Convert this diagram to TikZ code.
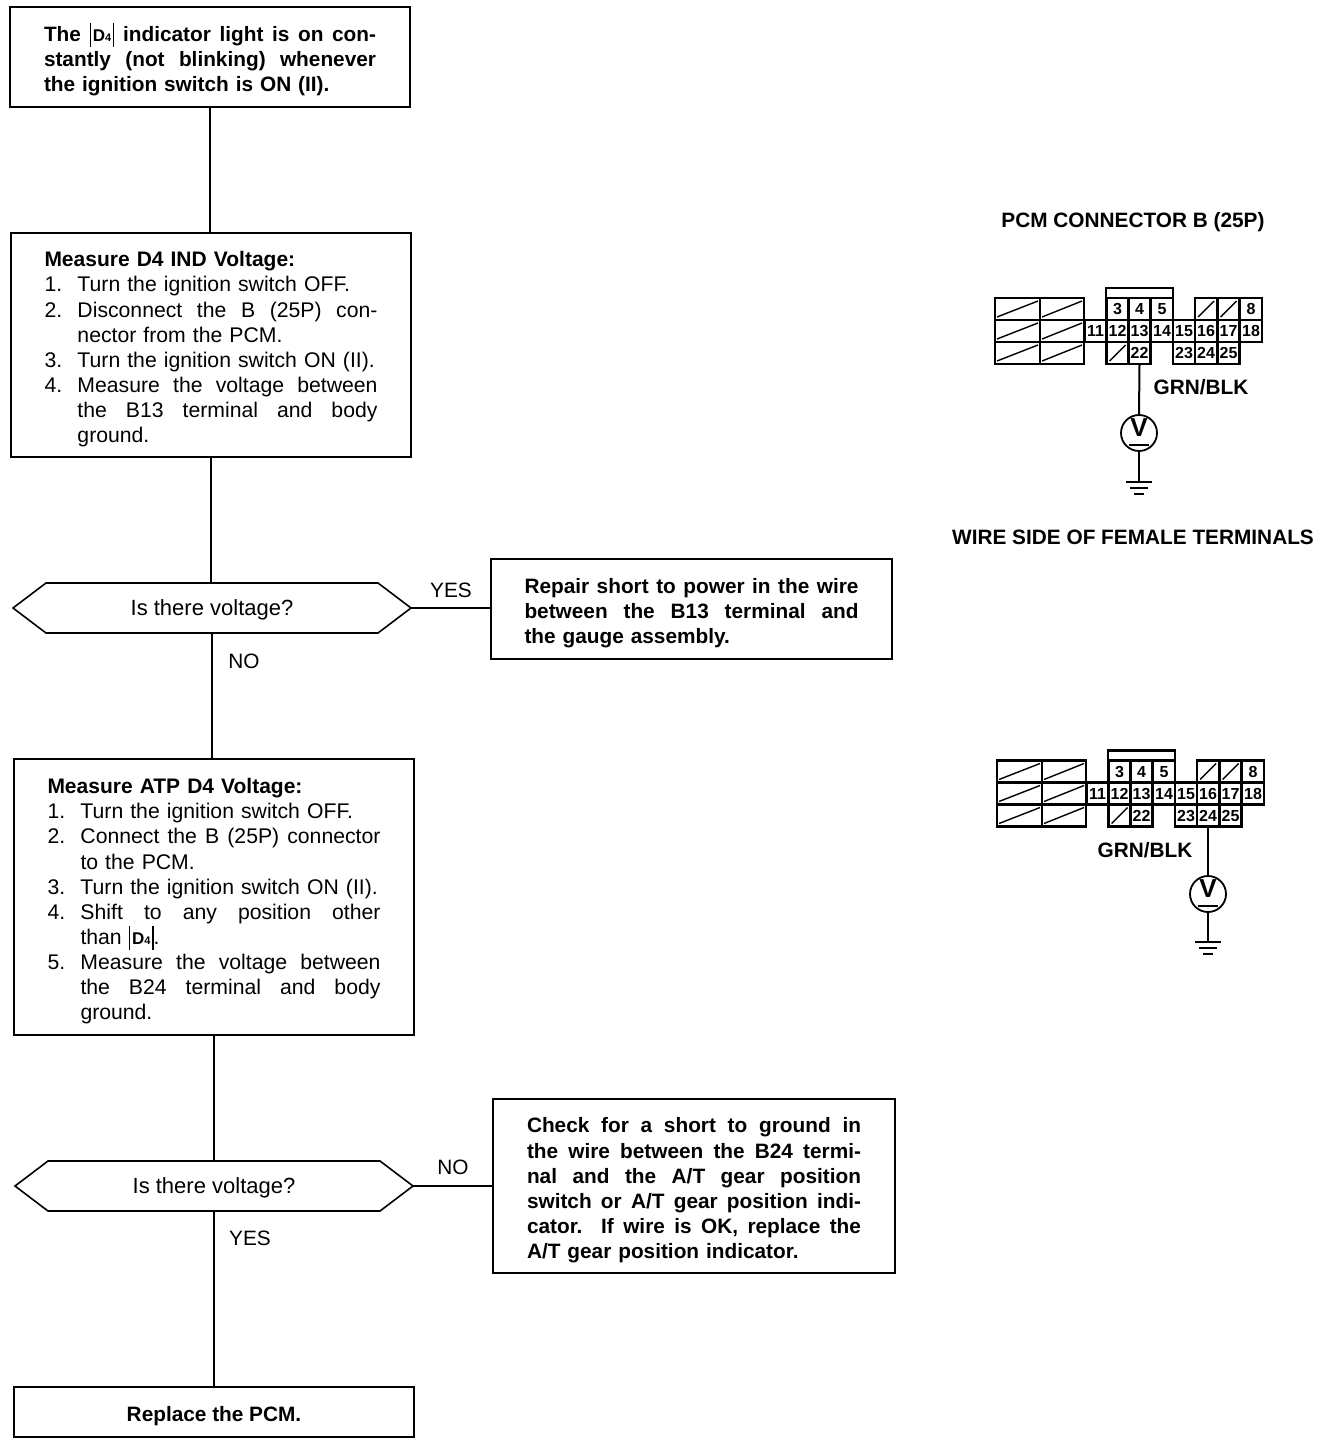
\documentclass[tikz,border=0pt]{standalone}
\usepackage{fontspec}
\setmainfont{Liberation Sans}
\newcommand{\dfour}{\mbox{\rule[-2.5pt]{.6pt}{12pt}\hspace{1pt}{\fontsize{8.5}{9}\selectfont\bfseries D\raisebox{0pt}{\fontsize{5.5}{6}\selectfont 4}}\hspace{1pt}\rule[-2.5pt]{.6pt}{12pt}}}
\newcommand{\jl}[1]{\makebox[\hsize][s]{\spaceskip=0pt\xspaceskip=0pt #1}}
\newcommand{\nm}[1]{\makebox[16.5pt][l]{#1}}
\newcommand{\ind}{\hspace*{16.5pt}}
\newcommand{\hd}[1]{{\fontsize{10.5}{12.55}\selectfont\bfseries #1}}
\newcommand{\tp}[1]{\rule{0pt}{#1pt}}
\tikzset{
  flowbox/.style={draw=black,line width=.8pt,inner sep=0pt,outer sep=0pt,minimum width=200pt,align=left,fill=white,
    font=\fontsize{10.6}{12.57}\selectfont},
  boldbox/.style={flowbox,font=\fontsize{10.4}{12.57}\selectfont\bfseries},
  hexa/.style={inner sep=0pt,outer sep=0pt,minimum width=199pt,minimum height=25pt,font=\fontsize{11}{12.5}\selectfont},
  flowline/.style={draw=black,line width=.8pt},
  lbl/.style={font=\fontsize{10.4}{12.5}\selectfont,inner sep=0pt},
  captxt/.style={font=\fontsize{10.4}{12.5}\selectfont\bfseries,inner sep=0pt},
  cell/.style={draw=black,line width=1.1pt,inner sep=0pt,outer sep=0pt,minimum width=11pt,minimum height=11pt,text height=5.8pt,text depth=0pt,font=\fontsize{8}{8}\selectfont\bfseries},
  meter/.style={circle,draw=black,line width=.9pt,minimum size=18pt,inner sep=0pt,outer sep=0pt},
  vtxt/.style={inner sep=0pt,font=\fontsize{13}{13}\selectfont\bfseries},
  wire/.style={draw=black,line width=1pt},
  conn/.style={draw=black,line width=1.3pt},
  hatch/.style={draw=black,line width=.7pt},
  gnd/.style={draw=black,line width=1.2pt}
}
\newcommand{\hexoutline}[1]{\draw[flowline] (#1.west) -- ([xshift=16.5pt]#1.north west) -- ([xshift=-16.5pt]#1.north east) -- (#1.east) -- ([xshift=-16.5pt]#1.south east) -- ([xshift=16.5pt]#1.south west) -- cycle;}
\newcommand{\connector}[3]{%
  \begin{scope}[shift={(#1,#2)}]
    \foreach \xa/\xb in {995/1040,1040/1084}{
      \foreach \ya/\yb in {298/320,320/342,342/364}{
        \draw[conn] (\xa,\ya) rectangle (\xb,\yb);
        \draw[hatch] (\xa+2,\yb-3) -- (\xb-2,\ya+3);
      }
    }
    \draw[conn] (1106,298) -- (1106,288) -- (1173,288) -- (1173,298);
    \draw[conn] (1084,320) -- (1106,320);
    \foreach \n/\c/\r in {3/1117.5/309,4/1139.5/309,5/1162/309,8/1251/309,
      11/1095.5/331,12/1117.5/331,13/1139.5/331,14/1162/331,15/1184/331,16/1206/331,17/1228.5/331,18/1251/331,
      22/1139.5/353,23/1184/353,24/1206/353,25/1228.5/353}{
      \node[cell] (#3\n) at (\c,\r) {\n};
    }
    \foreach \c/\r in {1206/309,1228.5/309,1117.5/353}{
      \node[cell] (#3s\c) at (\c,\r) {};
      \draw[hatch] (\c-8,\r+8) -- (\c+8,\r-8);
    }
  \end{scope}}
\begin{document}
\begin{tikzpicture}[x=0.5pt,y=-0.5pt]
\useasboundingbox (0,0) rectangle (1328,1444);
\fill[white] (0,0) rectangle (1328,1444);

\node[boldbox,minimum height=50pt,text width=166pt] (b1) at (210,57)
 {\jl{\tp{12}The \dfour{} indicator light is on con-}\\ \jl{stantly (not blinking) whenever}\\ the ignition switch is ON (II).};

\node[flowbox,minimum height=112pt,text width=166.5pt] (b2) at (211,345)
 {\tp{12}\hd{Measure D4 IND Voltage:}\\
  \nm{1.}Turn the ignition switch OFF.\\
  \jl{\nm{2.}Disconnect the B (25P) con-}\\
  \ind nector from the PCM.\\
  \nm{3.}Turn the ignition switch ON (II).\\
  \jl{\nm{4.}Measure the voltage between}\\
  \jl{\ind the B13 terminal and body}\\
  \ind ground.};

\node[hexa] (h1) at (212,608) {\tp{10}Is there voltage?};
\hexoutline{h1}

\node[boldbox,minimum width=200.5pt,minimum height=50pt,text width=167pt] (r1) at (691.5,609)
 {\jl{\tp{12}Repair short to power in the wire}\\ \jl{between the B13 terminal and}\\ the gauge assembly.};

\node[flowbox,minimum height=138pt,text width=166.5pt] (b3) at (214,897)
 {\tp{12}\hd{Measure ATP D4 Voltage:}\\
  \nm{1.}Turn the ignition switch OFF.\\
  \jl{\nm{2.}Connect the B (25P) connector}\\
  \ind to the PCM.\\
  \nm{3.}Turn the ignition switch ON (II).\\
  \jl{\nm{4.}Shift to any position other}\\
  \ind than \dfour.\\
  \jl{\nm{5.}Measure the voltage between}\\
  \jl{\ind the B24 terminal and body}\\
  \ind ground.};

\node[hexa] (h2) at (214,1186) {\tp{10}Is there voltage?};
\hexoutline{h2}

\node[boldbox,minimum width=201pt,minimum height=87pt,text width=167pt] (r2) at (694,1186)
 {\jl{\tp{12}Check for a short to ground in}\\ \jl{the wire between the B24 termi-}\\ \jl{nal and the A/T gear position}\\ \jl{switch or A/T gear position indi-}\\ \jl{cator. If wire is OK, replace the}\\ A/T gear position indicator.};

\node[boldbox,minimum height=25pt,align=center] (b4) at (214,1412) {\tp{11.5}Replace the PCM.};

\draw[flowline] (b1.south) -- (b1.south |- b2.north);
\draw[flowline] (b2.south) -- (b2.south |- h1.north);
\draw[flowline] (h1.south) -- (h1.south |- b3.north);
\draw[flowline] (b3.south) -- (h2.north);
\draw[flowline] (h2.south) -- (b4.north);
\draw[flowline] (h1.east) -- (h1.east -| r1.west);
\draw[flowline] (h2.east) -- (r2.west);

\node[lbl] (yes1) at (451,590) {YES};
\node[lbl] (no1) at (244,661) {NO};
\node[lbl] (no2) at (453,1167) {NO};
\node[lbl] (yes2) at (250,1238) {YES};

\node[captxt] (t1) at (1133,222) {PCM CONNECTOR B (25P)};
\node[captxt] (t2) at (1133,537) {WIRE SIDE OF FEMALE TERMINALS};

\connector{0}{0}{a}
\connector{2}{462.5}{b}

\node[captxt] (g1) at (1201,387) {GRN/BLK};
\node[captxt] (g2) at (1145,850) {GRN/BLK};

\node[meter] (v1) at (1139,433) {};
\node[meter] (v2) at (1208,894) {};
\node[vtxt] (vt1) at ([yshift=2.75pt]v1.center) {V};
\node[vtxt] (vt2) at ([yshift=2.75pt]v2.center) {V};
\coordinate (e1) at (1139,482);
\coordinate (e2) at (1208,942);
\draw[wire] (a22.south) -- (v1.north);
\draw[wire] (v1.south) -- (e1);
\draw[wire] (v2.north |- b24.south) -- (v2.north);
\draw[wire] (v2.south) -- (e2);
\foreach \c in {v1,v2}{
  \draw[gnd] ([xshift=-5pt,yshift=-6pt]\c.center) -- ([xshift=5pt,yshift=-6pt]\c.center);
}
\foreach \c in {e1,e2}{
  \draw[gnd] ([xshift=-6.5pt]\c) -- ([xshift=6.5pt]\c);
  \draw[gnd] ([xshift=-4.5pt,yshift=-3pt]\c) -- ([xshift=4.5pt,yshift=-3pt]\c);
  \draw[gnd] ([xshift=-2.5pt,yshift=-6pt]\c) -- ([xshift=2.5pt,yshift=-6pt]\c);
}
\end{tikzpicture}
\end{document}
